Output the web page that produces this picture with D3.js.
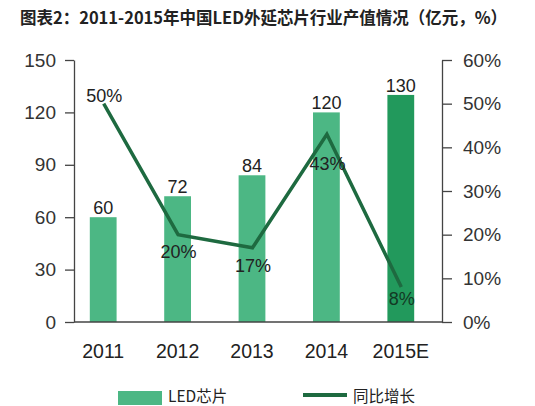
<!DOCTYPE html>
<html>
<head>
<meta charset="utf-8">
<script src="https://cdn.jsdelivr.net/npm/d3@7"></script>
<style>
  body { margin: 0; background: #fff; }
  text { font-family: "Liberation Sans", Arial, sans-serif; fill: #222; }
  .cjk { font-family: "Noto Sans CJK SC", sans-serif; }
  .axis path, .axis line { stroke: #444; stroke-width: 1.3; }
  .axis text { font-size: 19px; fill: #333; }
</style>
</head>
<body>
<div id="chart"></div>
<script>
var years = ['2011', '2012', '2013', '2014', '2015E'];
var output = [60, 72, 84, 120, 130];        // 亿元
var growth = [50, 20, 17, 43, 8];           // %
var leftTicks = [0, 30, 60, 90, 120, 150];
var rightTicks = [0, 10, 20, 30, 40, 50, 60];

var width = 535, height = 406;
var svg = d3.select('#chart').append('svg')
  .attr('width', width).attr('height', height);

// title
svg.append('text').attr('class', 'cjk')
  .attr('x', 20).attr('y', 24)
  .attr('textLength', 487).attr('lengthAdjust', 'spacingAndGlyphs')
  .style('font-size', '17px').style('font-weight', 'bold')
  .text('图表2：2011-2015年中国LED外延芯片行业产值情况（亿元，%）');

var plotTop = 60, plotBottom = 322, axisL = 74, axisR = 442;

var x = d3.scaleBand().domain(years).range([66, 438])
  .paddingInner(0.64).paddingOuter(0.32);
var y = d3.scaleLinear().domain([0, 150]).range([plotBottom, plotTop]);
var y2 = d3.scaleLinear().domain([0, 60]).range([plotBottom, plotTop]);

// bars
svg.selectAll('rect.bar').data(output).enter()
  .append('rect').attr('class', 'bar')
  .attr('x', function(d, i) { return x(years[i]); })
  .attr('width', x.bandwidth())
  .attr('y', function(d) { return y(d); })
  .attr('height', function(d) { return plotBottom - y(d); })
  .attr('fill', function(d, i) { return i == years.length - 1 ? '#22995c' : '#4cb784'; });

// bar value labels
svg.selectAll('text.val').data(output).enter()
  .append('text').attr('class', 'val')
  .attr('x', function(d, i) { return x(years[i]) + x.bandwidth() / 2; })
  .attr('y', function(d) { return y(d) - 3; })
  .attr('text-anchor', 'middle')
  .style('font-size', '18px')
  .text(function(d) { return d; });

// axes
svg.append('g').attr('class', 'axis')
  .attr('transform', 'translate(' + axisL + ',0)')
  .call(d3.axisLeft(y).tickValues(leftTicks).tickSize(9).tickPadding(9).tickSizeOuter(0));
svg.append('g').attr('class', 'axis')
  .attr('transform', 'translate(' + axisR + ',0)')
  .call(d3.axisRight(y2).tickValues(rightTicks).tickSize(10).tickPadding(11).tickSizeOuter(0)
    .tickFormat(function(d) { return d + '%'; }));

svg.append('line')
  .attr('x1', axisL).attr('x2', axisR)
  .attr('y1', plotBottom).attr('y2', plotBottom)
  .attr('stroke', '#444').attr('stroke-width', 1.3);

// category labels
svg.selectAll('text.cat').data(years).enter()
  .append('text').attr('class', 'cat')
  .attr('x', function(d) { return x(d) + x.bandwidth() / 2; })
  .attr('y', 358)
  .attr('text-anchor', 'middle')
  .style('font-size', '19.5px').style('fill', '#222')
  .text(function(d) { return d; });

// growth line
var line = d3.line()
  .x(function(d, i) { return x(years[i]) + x.bandwidth() / 2 + 0.5; })
  .y(function(d) { return y2(d); });
svg.append('path').datum(growth)
  .attr('d', line)
  .attr('fill', 'none')
  .attr('stroke', '#1e6a40')
  .attr('stroke-width', 3.5);

// growth labels: first sits above its point, the rest below
var pctShift = [-2, 23, 24, 36, 18];
svg.selectAll('text.pct').data(growth).enter()
  .append('text').attr('class', 'pct')
  .attr('x', function(d, i) { return x(years[i]) + x.bandwidth() / 2 + 1; })
  .attr('y', function(d, i) { return y2(d) + pctShift[i]; })
  .attr('text-anchor', 'middle')
  .style('font-size', '18px')
  .style('fill', function(d, i) { return i == years.length - 1 ? '#123a24' : '#222'; })
  .text(function(d) { return d + '%'; });

// legend
var lg = svg.append('g');
lg.append('rect').attr('x', 118).attr('y', 391).attr('width', 44).attr('height', 14)
  .attr('fill', '#4cb784');
lg.append('text').attr('class', 'cjk').attr('x', 168).attr('y', 395)
  .attr('dominant-baseline', 'central')
  .style('font-size', '15.5px').text('LED芯片');
lg.append('line').attr('x1', 303).attr('x2', 347).attr('y1', 395).attr('y2', 395)
  .attr('stroke', '#1e6a40').attr('stroke-width', 4);
lg.append('text').attr('class', 'cjk').attr('x', 353).attr('y', 395)
  .attr('dominant-baseline', 'central')
  .style('font-size', '15.5px').text('同比增长');
</script>
</body>
</html>
